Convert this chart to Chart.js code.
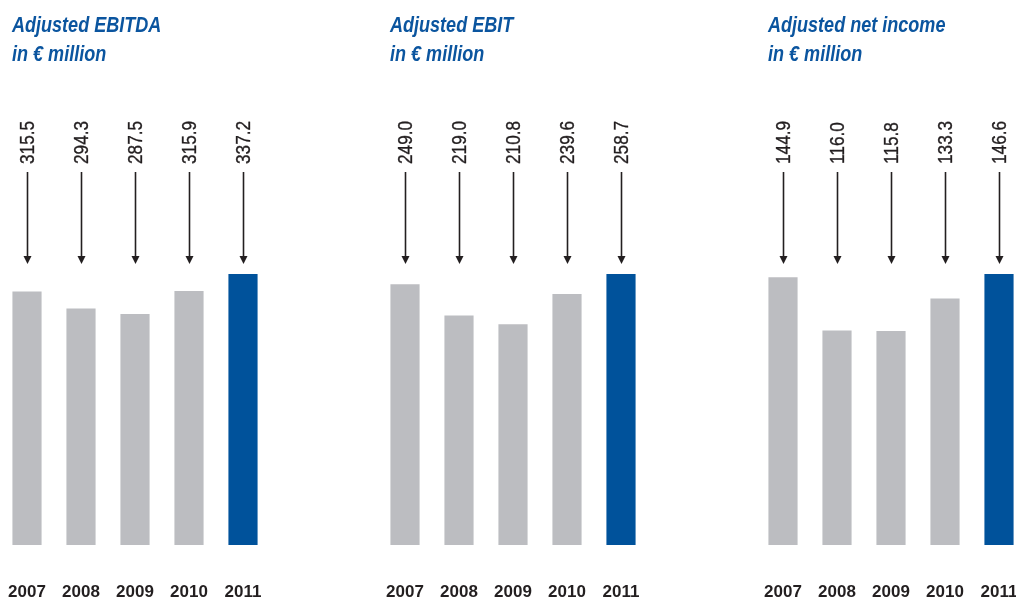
<!DOCTYPE html>
<html>
<head>
<meta charset="utf-8">
<script src="https://cdn.jsdelivr.net/npm/chart.js@4/dist/chart.umd.min.js"></script>
<style>
  html, body { margin: 0; padding: 0; background: #fff; overflow: hidden; }
  #wrap { position: relative; width: 1016px; height: 599px; }
  canvas { position: absolute; top: 0; }
</style>
</head>
<body>
<div id="wrap">
  <canvas id="c1" width="270" height="599" style="left:0px"></canvas>
  <canvas id="c2" width="270" height="599" style="left:378px"></canvas>
  <canvas id="c3" width="270" height="599" style="left:756px"></canvas>
</div>
<script>
const years = ['2007', '2008', '2009', '2010', '2011'];
const ebitda = [315.5, 294.3, 287.5, 315.9, 337.2];
const ebit = [249.0, 219.0, 210.8, 239.6, 258.7];
const netIncome = [144.9, 116.0, 115.8, 133.3, 146.6];
const titleEbitda = ['Adjusted EBITDA', 'in € million'];
const titleEbit = ['Adjusted EBIT', 'in € million'];
const titleNet = ['Adjusted net income', 'in € million'];

const GRAY = '#bcbdc1';
const BLUE = '#00529b';
const TEXT = '#231f20';
const SANS = "'Liberation Sans', Arial, sans-serif";
const NARROW = 0.82; // no condensed face installed, squeeze Liberation Sans instead

// titles, rotated value labels and arrows above the bars
const annotate = {
  id: 'annotate',
  afterDraw(chart) {
    const { ctx, scales: { x } } = chart;
    const opts = chart.options.plugins.annotate;
    ctx.save();
    ctx.fillStyle = '#0b559f';
    ctx.font = `italic bold 22px ${SANS}`;
    ctx.textBaseline = 'alphabetic';
    ctx.textAlign = 'left';
    opts.title.forEach((t, i) => {
      ctx.save();
      ctx.translate(12, 32 + i * 29);
      ctx.scale(NARROW, 1);
      ctx.fillText(t, 0, 0);
      ctx.restore();
    });

    const values = chart.data.datasets[0].data;
    values.forEach((v, i) => {
      const cx = Math.round(x.getPixelForValue(i)) + 0.5;
      ctx.save();
      ctx.translate(cx, 164);
      ctx.rotate(-Math.PI / 2);
      ctx.scale(NARROW, 1);
      ctx.fillStyle = TEXT;
      ctx.strokeStyle = TEXT;
      ctx.lineWidth = 0.35;
      ctx.font = `21px ${SANS}`;
      ctx.textAlign = 'left';
      ctx.textBaseline = 'middle';
      ctx.fillText(v.toFixed(1), 0, 1);
      ctx.strokeText(v.toFixed(1), 0, 1);
      ctx.restore();

      ctx.strokeStyle = TEXT;
      ctx.lineWidth = 1.6;
      ctx.beginPath();
      ctx.moveTo(cx, 172);
      ctx.lineTo(cx, 257);
      ctx.stroke();
      ctx.fillStyle = TEXT;
      ctx.beginPath();
      ctx.moveTo(cx - 4, 256);
      ctx.lineTo(cx + 4, 256);
      ctx.lineTo(cx, 264);
      ctx.closePath();
      ctx.fill();
    });
    ctx.restore();
  }
};

function makeChart(id, values, title) {
  const colors = values.map((_, i) => i === values.length - 1 ? BLUE : GRAY);
  return new Chart(document.getElementById(id), {
    type: 'bar',
    data: {
      labels: years,
      datasets: [{
        data: values,
        backgroundColor: colors,
        borderWidth: 0,
        categoryPercentage: 1,
        barPercentage: 0.54,
      }],
    },
    options: {
      responsive: false,
      animation: false,
      events: [],
      layout: { autoPadding: false, padding: { top: 274, left: 0, right: 0, bottom: 0 } },
      plugins: {
        legend: { display: false },
        tooltip: { enabled: false },
        annotate: { title },
      },
      scales: {
        x: {
          grid: { display: false, drawTicks: false },
          border: { display: false },
          ticks: {
            color: TEXT,
            padding: 37,
            font: { family: SANS, size: 17, weight: 'bold' },
            maxRotation: 0,
            autoSkip: false,
          },
          afterFit(scale) {
            scale.height = 54;
            scale.paddingLeft = 0;
            scale.paddingRight = 0;
          },
        },
        y: {
          display: false,
          min: 0,
          max: Math.max(...values),
        },
      },
    },
    plugins: [annotate],
  });
}

makeChart('c1', ebitda, titleEbitda);
makeChart('c2', ebit, titleEbit);
makeChart('c3', netIncome, titleNet);
</script>
</body>
</html>
